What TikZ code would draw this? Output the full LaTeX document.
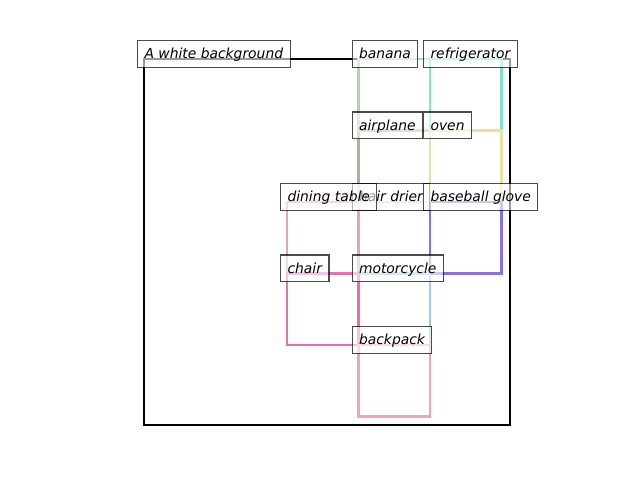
\documentclass[tikz,border=0pt]{standalone}
\usepackage{fontspec}
\setmainfont{DejaVu Sans}
\usepackage{xcolor}
\usetikzlibrary{positioning}
\definecolor{bananaCol}{HTML}{B0D4B0}
\definecolor{fridgeCol}{HTML}{80E2CC}
\definecolor{planeCol}{HTML}{B4B096}
\definecolor{ovenCol}{HTML}{ECE0A0}
\definecolor{drierCol}{HTML}{D8D2C4}
\definecolor{tableCol}{HTML}{E0A2CC}
\definecolor{gloveCol}{HTML}{8A70E8}
\definecolor{motoCol}{HTML}{A0C8E4}
\definecolor{chairCol}{HTML}{E870B0}
\definecolor{packCol}{HTML}{F0A2CC}

\begin{document}
\begin{tikzpicture}[x=53.625pt,y=-53.625pt,
    objbox/.style={line width=1.9pt},
    tagbox/.style={draw=black, draw opacity=0.7, fill=white, fill opacity=0.6,
      text opacity=1, line width=0.8pt, inner sep=5.25pt,
      text height=8.6pt, text depth=1pt, anchor=base west, xshift=-5.25pt,
      font=\fontsize{10.4}{12}\selectfont\itshape}]
        \pgfmathsetmacro{\bg}{5.119}
        \useasboundingbox (-2.014,-0.825) rectangle (6.937,5.888);
        % object boxes
        \draw[objbox, black] (0,0) rectangle (\bg,\bg);
        \draw[objbox, bananaCol] (3,0) rectangle (4,1);
        \draw[objbox, fridgeCol] (4,0) rectangle (5,1);
        \draw[objbox, planeCol] (3,1) rectangle (4,2);
        \draw[objbox, ovenCol] (4,1) rectangle (5,2);
        \draw[objbox, drierCol] (3,2) rectangle (4,3);
        \draw[objbox, tableCol] (2,2) rectangle (3,3);
        \draw[objbox, gloveCol] (4,2) rectangle (5,3);
        \draw[objbox, motoCol] (3,3) rectangle (4,4);
        \draw[objbox, chairCol] (2,3) rectangle (3,4);
        \draw[objbox, packCol] (3,4) rectangle (4,5);
        % labels
        \node[tagbox] (bgtag) at (0,0) {A white background};
        \node[tagbox] (bananatag) at (3,0) {banana};
        \node[tagbox] (fridgetag) at (4,0) {refrigerator};
        \node[tagbox] (planetag) at (3,1) {airplane};
        \node[tagbox] (oventag) at (4,1) {oven};
        \node[tagbox] (driertag) at (3,2) {hair drier};
        \node[tagbox] (tabletag) at (2,2) {dining table};
        \node[tagbox] (glovetag) at (4,2) {baseball glove};
        \node[tagbox] (chairtag) at (2,3) {chair};
        \node[tagbox] (mototag) at (3,3) {motorcycle};
        \node[tagbox] (packtag) at (3,4) {backpack};
    \end{tikzpicture}
\end{document}
